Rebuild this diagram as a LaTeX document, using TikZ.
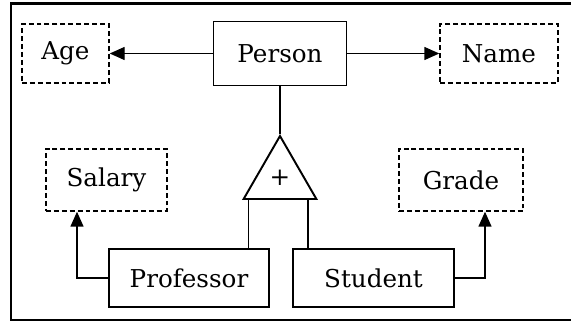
\documentclass[tikz,border=0pt]{standalone}
\usepackage{fontspec}
\setmainfont{DejaVu Serif}
\usetikzlibrary{arrows.meta, shapes.geometric}

\begin{document}
\begin{tikzpicture}[>={Triangle[length=0.3cm,width=0.26cm]},
  entity/.style={draw, line width=0.8pt, inner sep=0pt, font=\fontsize{14}{16}\selectfont},
  attrib/.style={entity, dash pattern=on 2.8pt off 1.7pt, line width=0.8pt},
  link/.style={line width=0.8pt}]
  \useasboundingbox (0,0) rectangle (11.42,6.44);
  \draw[line width=1.7pt] (0.22,0.04) rectangle (11.5,6.37);
  % top row
  \node[entity, minimum width=2.66cm, minimum height=1.28cm] (person) at (5.6,5.37) {Person};
  \node[attrib, minimum width=1.74cm, minimum height=1.18cm] (age) at (1.31,5.37) {Age};
  \node[attrib, minimum width=2.36cm, minimum height=1.18cm] (name) at (9.98,5.37) {Name};
  \draw[link,->] (person.west) -- (age.east);
  \draw[link,->] (person.east) -- (name.west);
  % generalisation
  \node[draw, regular polygon, regular polygon sides=3, minimum size=1.68cm, inner sep=0pt,
        line width=1.1pt, font=\fontsize{14}{16}\selectfont] (isa) at (5.6,2.88) {+};
  \draw[link] (person.south) -- (isa.corner 1);
  \node[entity, minimum width=3.2cm, minimum height=1.16cm] (prof) at (3.78,0.88) {Professor};
  \node[entity, minimum width=3.22cm, minimum height=1.16cm] (stud) at (7.47,0.88) {Student};
  \coordinate (isaL) at ([xshift=0.13cm]isa.corner 2);
  \coordinate (isaR) at ([xshift=-0.2cm]isa.corner 3);
  \draw[link] (isaL) -- (isaL |- prof.north);
  \draw[link] (isaR) -- (isaR |- stud.north);
  % attributes of the subtypes
  \node[attrib, minimum width=2.42cm, minimum height=1.24cm] (salary) at (2.13,2.84) {Salary};
  \node[attrib, minimum width=2.48cm, minimum height=1.24cm] (grade) at (9.22,2.84) {Grade};
  \draw[link,->] (prof.west) -| ([xshift=-0.59cm]salary.south);
  \draw[link,->] (stud.east) -| ([xshift=0.48cm]grade.south);
\end{tikzpicture}
\end{document}
